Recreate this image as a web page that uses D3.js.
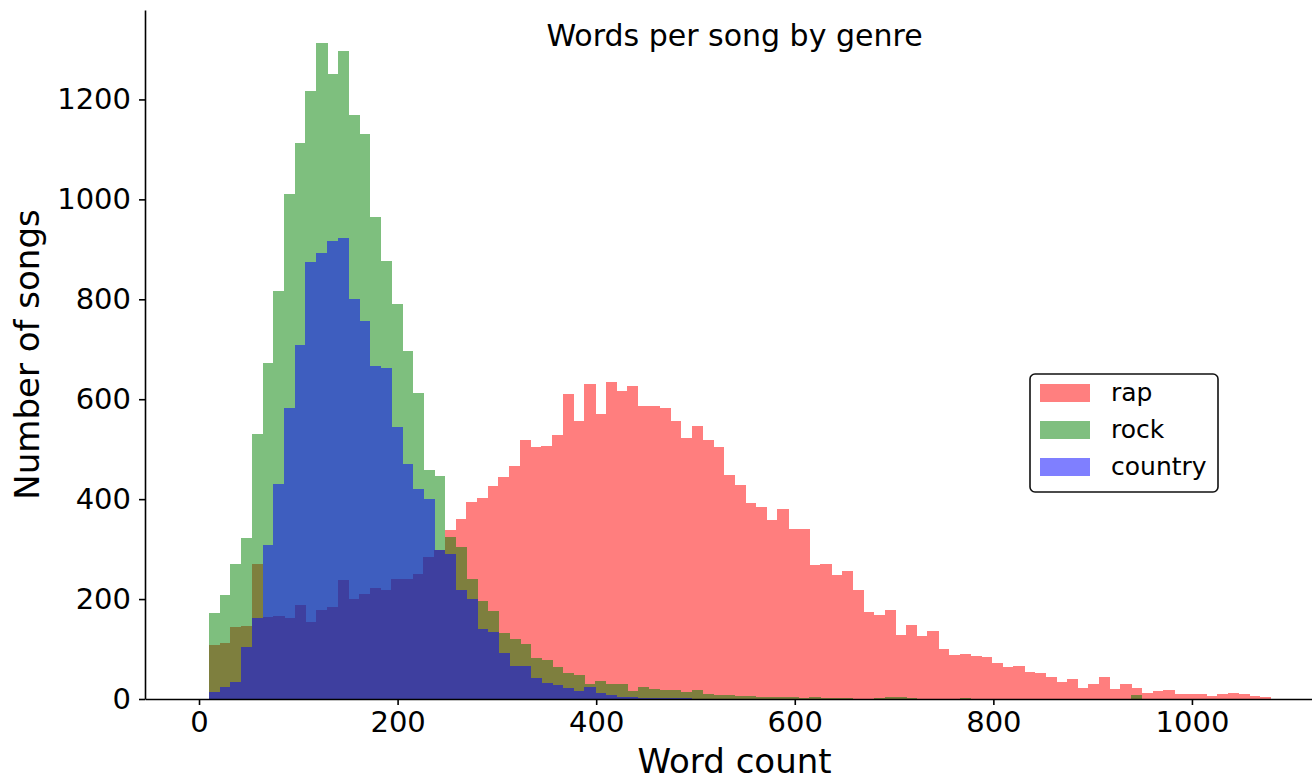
<!DOCTYPE html>
<html>
<head>
<meta charset="utf-8">
<script src="https://cdn.jsdelivr.net/npm/d3@7"></script>
<style>
  body { margin: 0; background: #fff; }
  svg text { font-family: "DejaVu Sans", sans-serif; fill: #000; }
</style>
</head>
<body>
<svg id="chart" width="1312" height="781"></svg>
<script>
// Histogram bins shared by all three genres (word count)
const binStart = 10;
const binWidth = 10.8;

// Songs per bin, one entry per bin
const rap = [109, 113, 145, 147, 270, 164, 166, 162, 189, 155, 179, 185, 239, 200, 210, 223, 218, 241, 240, 250,
  285, 298, 338, 360, 395, 402, 426, 444, 466, 518, 504, 507, 528, 611, 557, 630, 570, 634, 616, 627,
  587, 587, 582, 557, 522, 547, 518, 505, 448, 428, 392, 384, 358, 381, 340, 340, 268, 270, 248, 256,
  218, 174, 168, 178, 129, 148, 127, 136, 101, 88, 91, 87, 85, 73, 65, 67, 55, 52, 44, 35,
  40, 22, 31, 45, 21, 30, 23, 13, 17, 19, 11, 11, 11, 6, 10, 13, 10, 7, 5];

const rock = [172, 209, 271, 323, 531, 673, 816, 1011, 1113, 1217, 1313, 1250, 1296, 1168, 1130, 965, 877, 791, 697, 613,
  459, 446, 324, 304, 241, 196, 176, 132, 121, 110, 83, 78, 65, 53, 48, 31, 37, 31, 30, 17,
  25, 21, 19, 18, 15, 19, 10, 9, 9, 7, 6, 5, 4, 5, 5, 3, 5, 3, 2, 2,
  1, 1, 3, 5, 4, 3, 1, 1, 1, 0, 3, 0, 1, 0, 0, 1, 0, 0, 0, 0,
  0, 0, 0, 1, 0, 1, 8, 0, 0, 0, 0, 0, 0, 0, 0, 0, 0, 0, 0];

const country = [15, 24, 35, 104, 163, 308, 430, 583, 709, 875, 893, 917, 922, 800, 756, 666, 662, 544, 470, 421,
  401, 298, 290, 218, 200, 140, 135, 93, 66, 66, 43, 33, 29, 23, 17, 25, 13, 8, 5, 4,
  3, 3, 2, 2, 2, 1, 1, 1, 0, 0, 0, 0, 0, 0, 0, 0, 0, 0, 0, 0,
  0, 0, 0, 0, 0, 0, 0, 0, 0, 0, 0, 0, 0, 0, 0, 0, 0, 0, 0, 0,
  0, 0, 0, 0, 0, 0, 0, 0, 0, 0, 0, 0, 0, 0, 0, 0, 0, 0, 0];

const genres = ["rap", "rock", "country"];
const genreColors = ["red", "green", "blue"];
const xTicks = [0, 200, 400, 600, 800, 1000];
const yTicks = [0, 200, 400, 600, 800, 1000, 1200];

const seriesByGenre = { rap, rock, country };

const svg = d3.select("#chart");
const plot = { left: 145, right: 1324, top: 10, bottom: 699 };

const x = d3.scaleLinear().domain([-54.4, 1133]).range([plot.left, plot.right]);
const y = d3.scaleLinear().domain([0, 1379]).range([plot.bottom, plot.top]);

// Bars: each genre drawn as one semi-transparent layer, in order rap, rock, country
genres.forEach((g, gi) => {
  const values = seriesByGenre[g];
  const layer = svg.append("g").attr("opacity", 0.5);
  layer.selectAll("rect")
    .data(values)
    .join("rect")
    .attr("x", (d, i) => x(binStart + i * binWidth))
    .attr("width", (d, i) => x(binStart + (i + 1) * binWidth) - x(binStart + i * binWidth) + 0.6)
    .attr("y", d => y(d))
    .attr("height", d => y(0) - y(d))
    .attr("shape-rendering", "crispEdges")
    .attr("fill", genreColors[gi]);
});

// Axes
const tickFont = 29;
const xAxis = svg.append("g")
  .attr("transform", `translate(0,${plot.bottom})`)
  .call(d3.axisBottom(x).tickValues(xTicks).tickFormat(d3.format("d")).tickSize(6).tickSizeOuter(0).tickPadding(6));
const yAxis = svg.append("g")
  .attr("transform", `translate(${plot.left},0)`)
  .call(d3.axisLeft(y).tickValues(yTicks).tickFormat(d3.format("d")).tickSize(6).tickSizeOuter(0).tickPadding(8));

[xAxis, yAxis].forEach(a => {
  a.select(".domain").attr("stroke", "#000").attr("stroke-width", 1.6);
  a.selectAll(".tick line").attr("stroke", "#000").attr("stroke-width", 1.6);
  a.selectAll(".tick text").attr("font-size", tickFont).attr("font-family", "DejaVu Sans").attr("fill", "#000");
});

// Axis labels and title
svg.append("text")
  .attr("x", (plot.left + plot.right) / 2)
  .attr("y", 773)
  .attr("text-anchor", "middle")
  .attr("font-size", 34)
  .text("Word count");

svg.append("text")
  .attr("transform", `translate(39,${(plot.top + plot.bottom) / 2}) rotate(-90)`)
  .attr("text-anchor", "middle")
  .attr("font-size", 34)
  .text("Number of songs");

svg.append("text")
  .attr("x", (plot.left + plot.right) / 2)
  .attr("y", 46)
  .attr("text-anchor", "middle")
  .attr("font-size", 30)
  .text("Words per song by genre");

// Legend
const legend = svg.append("g").attr("transform", "translate(1030,374)");
legend.append("rect")
  .attr("width", 188).attr("height", 118).attr("rx", 5)
  .attr("fill", "#fff").attr("stroke", "#111").attr("stroke-width", 1.6);
genres.forEach((g, i) => {
  const row = legend.append("g").attr("transform", `translate(10,${10 + i * 37})`);
  row.append("rect").attr("width", 50).attr("height", 18)
    .attr("fill", genreColors[i]).attr("fill-opacity", 0.5);
  row.append("text").attr("x", 71).attr("y", 17).attr("font-size", 25).text(g);
});
</script>
</body>
</html>
